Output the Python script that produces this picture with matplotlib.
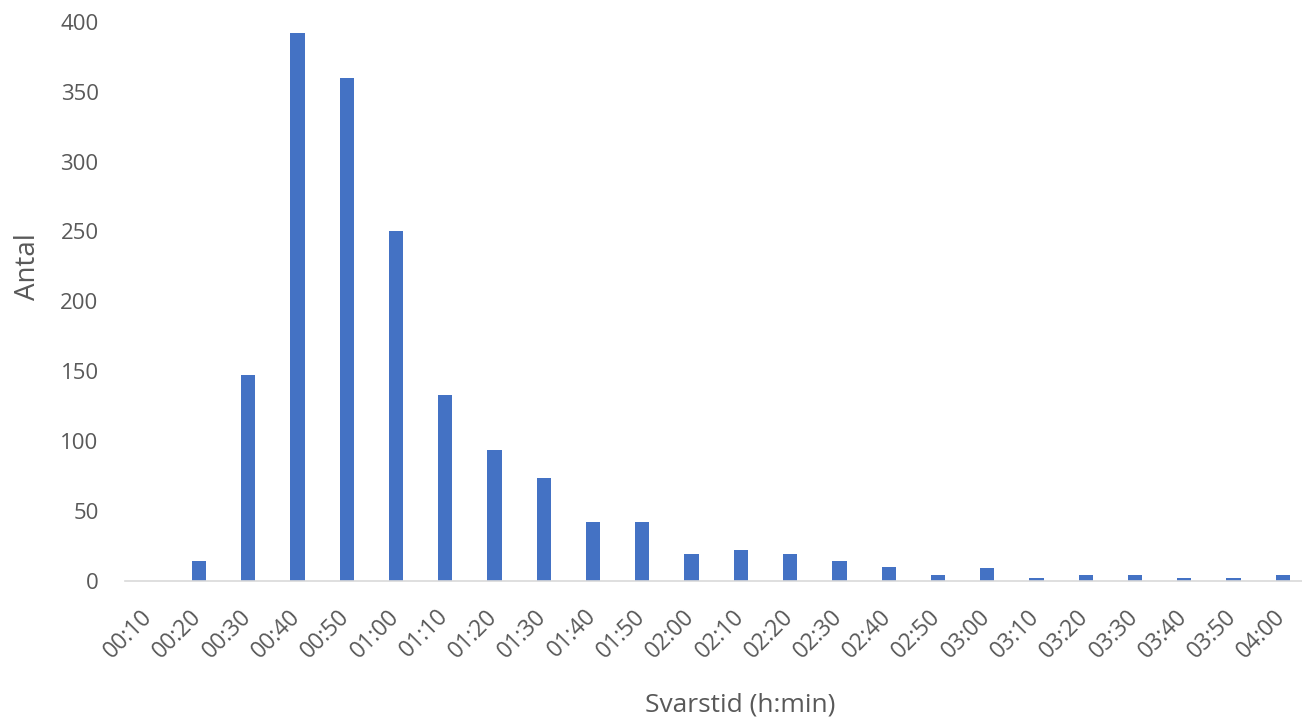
import numpy as np
import matplotlib.pyplot as plt
import matplotlib.transforms as mtransforms

# Svarstid histogram
labels = ['00:10', '00:20', '00:30', '00:40', '00:50', '01:00', '01:10', '01:20',
          '01:30', '01:40', '01:50', '02:00', '02:10', '02:20', '02:30', '02:40',
          '02:50', '03:00', '03:10', '03:20', '03:30', '03:40', '03:50', '04:00']
counts = [0, 14, 147, 392, 360, 250, 133, 94,
          74, 42, 42, 19, 22, 19, 14, 10,
          4, 9, 2, 4, 4, 2, 2, 4]

plt.rcParams['font.family'] = ['Open Sans', 'DejaVu Sans']

W, H = 1302, 728
fig = plt.figure(figsize=(W / 100, H / 100), dpi=100)
ax = fig.add_axes([125 / W, 1 - 581 / H, (W - 125) / W, (581 - 21.7) / H])

x = np.arange(len(labels))
ax.bar(x, counts, width=0.29, color='#4472C4')

ax.set_ylim(0, 400)
ax.set_xlim(-0.5, 23.39)
ax.set_yticks(range(0, 401, 50))
ax.set_xticks(x)
ax.set_xticklabels(labels, rotation=45, ha='right', rotation_mode='anchor')

for s in ['top', 'right', 'left']:
    ax.spines[s].set_visible(False)
ax.spines['bottom'].set_color('#D9D9D9')
ax.spines['bottom'].set_linewidth(1.2)
ax.tick_params(axis='both', length=0, colors='#595959', labelsize=16)
ax.tick_params(axis='x', labelsize=16.5)
ax.tick_params(axis='y', pad=19)
ax.tick_params(axis='x', pad=17)

# shift rotated labels a bit left
shift = mtransforms.ScaledTranslation(-9 / 100, 0, fig.dpi_scale_trans)
for lab in ax.get_xticklabels():
    lab.set_transform(lab.get_transform() + shift)

ax.set_ylabel('Antal', fontsize=20, color='#595959')
ax.set_xlabel('Svarstid (h:min)', fontsize=19, color='#595959')
ax.yaxis.set_label_coords(-83 / (W - 125), (581 - 267) / (581 - 21.7))
ax.xaxis.set_label_coords((740 - 125) / (W - 125), -(693 - 581) / (581 - 21.7))

fig.savefig('out.png', dpi=100)
